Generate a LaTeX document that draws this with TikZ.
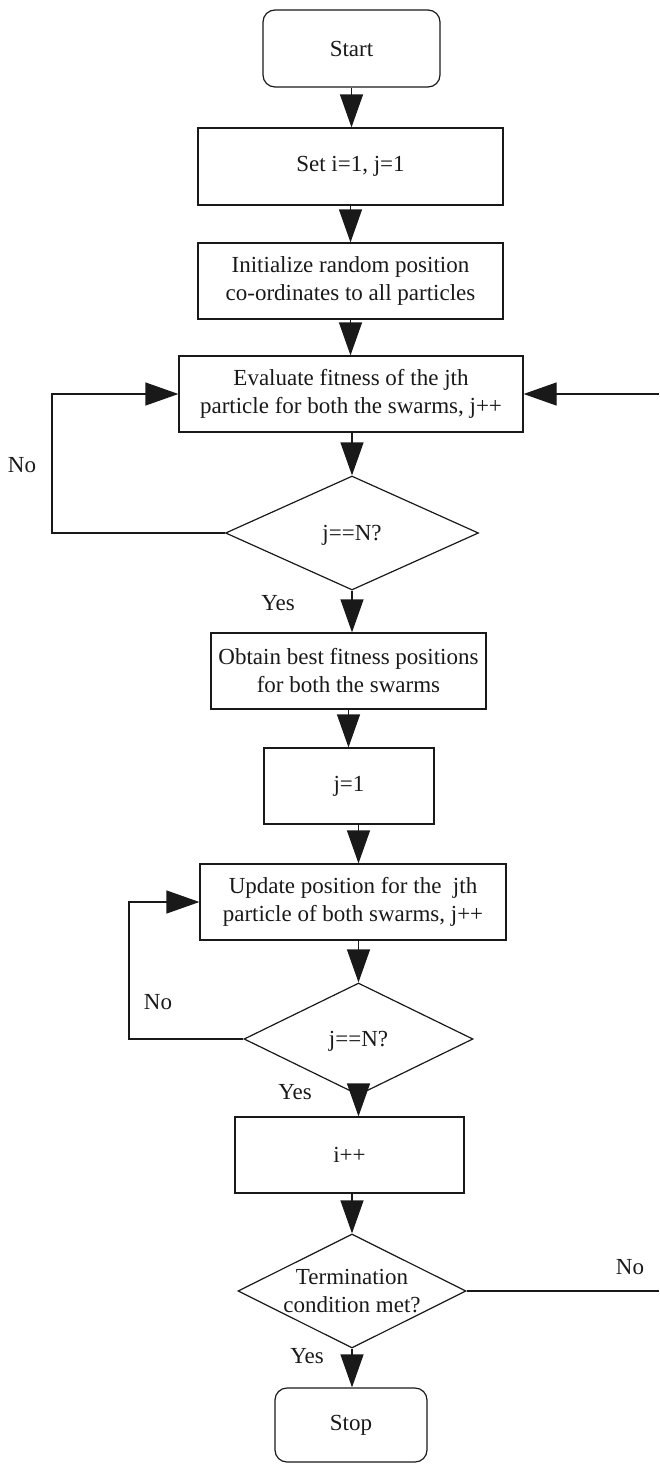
\documentclass[tikz,border=0pt]{standalone}
\usepackage{fontspec}
\setmainfont{Liberation Serif}
\usetikzlibrary{arrows.meta,shapes.geometric}
\newcommand\flowfont{\fontsize{23}{28}\selectfont}
\begin{document}
\begin{tikzpicture}[x=1pt,y=-1pt,
  line width=1.2pt, draw=black!90, text=black!90,
  arr/.style={-{Triangle[length=33pt,width=23pt]}},
  box/.style={draw, minimum width=#1, minimum height=76pt, inner sep=0pt, align=center, font=\flowfont},
  term/.style={box=#1, rounded corners=12pt},
  dec/.style={draw, diamond, inner sep=0pt},
  txt/.style={align=center, font=\flowfont, inner sep=0pt},
]
\useasboundingbox (0,0) rectangle (659,1464);

\node[term=177pt, minimum height=77pt] (start) at (351.5,48.5) {Start};
\node[box=305pt, minimum height=77pt] (set) at (350.5,166.5) {Set i=1, j=1};
\node[box=305pt] (init) at (350.5,281) {Initialize random position\\co-ordinates to all particles};
\node[box=344pt] (eval) at (351,394) {Evaluate fitness of the jth\\particle for both the swarms, j++};
\node[dec, minimum width=253pt, minimum height=114pt] (d1) at (352,533) {};
\node[txt] (d1t) at (352,535) {j==N?};
\node[box=275pt] (obt) at (348.5,671) {Obtain best fitness positions\\for both the swarms};
\node[box=170pt] (j1) at (349,786) {j=1};
\node[box=306pt] (upd) at (353,902) {Update position for the\ \ jth\\particle of both swarms, j++};
\node[dec, minimum width=229pt, minimum height=112pt] (d2) at (358.5,1039) {};
\node[txt] (d2t) at (358.5,1041) {j==N?};
\node[box=229pt] (inc) at (349.5,1155) {i++};
\node[dec, minimum width=228pt, minimum height=114pt] (d3) at (352,1291) {};
\node[txt] (d3t) at (352,1291) {Termination\\condition met?};
\node[term=152pt, minimum height=74pt] (stop) at (351,1425) {Stop};

\node[txt] (no1) at (22,465) {No};
\node[txt] (yes1) at (278,603) {Yes};
\node[txt] (no2) at (158,1002) {No};
\node[txt] (yes2) at (295,1092) {Yes};
\node[txt] (no3) at (630,1267) {No};
\node[txt] (yes3) at (307,1356) {Yes};

\coordinate (l1) at (52,0);
\coordinate (l2) at (129,0);
\coordinate (r1) at (659,394);
\coordinate (r3) at (659,1291);

\draw[arr] (start.south) -- (start.south |- set.north);
\draw[arr] (set.south) -- (set.south |- init.north);
\draw[arr] (init.south) -- (init.south |- eval.north);
\draw[arr] (d1.north |- eval.south) -- (d1.north);
\draw[arr] (d1.south) -- (d1.south |- obt.north);
\draw[arr] (d1.west) -- (d1.west -| l1) |- (eval.west);
\draw[arr] (r1) -- (eval.east);
\draw[arr] (obt.south) -- (obt.south |- j1.north);
\draw[arr] (d2.north |- j1.south) -- (d2.north |- upd.north);
\draw[arr] (d2.north |- upd.south) -- (d2.north);
\draw[arr] (d2.west) -- (d2.west -| l2) |- (upd.west);
\draw[arr] (d2.south) -- (d2.south |- inc.north);
\draw[arr] (d3.north |- inc.south) -- (d3.north);
\draw (d3.east) -- (r3);
\draw[arr] (d3.south) -- (d3.south |- stop.north);
\end{tikzpicture}
\end{document}
